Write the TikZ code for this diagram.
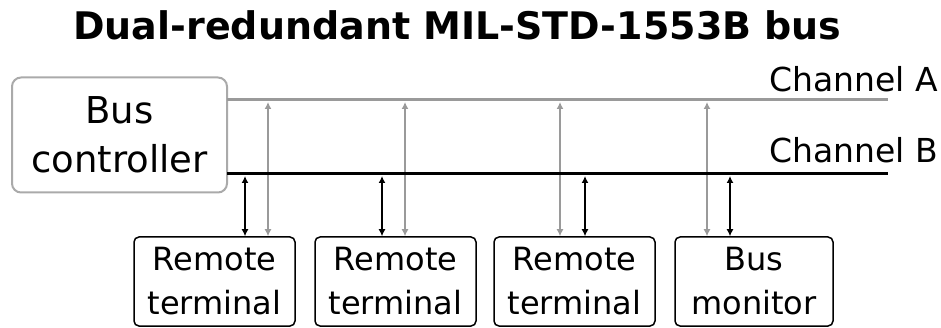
\documentclass[tikz,border=0pt]{standalone}
\usepackage{fontspec}
\setmainfont{DejaVu Sans}
\usetikzlibrary{arrows.meta}
\definecolor{busgray}{HTML}{9A9A9A}
\definecolor{boxgray}{HTML}{AAAAAA}
\begin{document}
\begin{tikzpicture}[x=1pt,y=-1pt,
  unitbox/.style={draw=black, line width=1.5pt, rounded corners=5pt,
    minimum width=161pt, minimum height=89pt, inner sep=0pt, align=center,
    font=\fontsize{32}{44}\selectfont},
  ctrlbox/.style={draw=boxgray, line width=2pt, rounded corners=9pt,
    minimum width=215pt, minimum height=115pt, inner sep=0pt, align=center,
    font=\fontsize{37}{49}\selectfont},
  chanA/.style={draw=busgray, line width=3pt},
  chanB/.style={draw=black, line width=3.5pt},
  linkA/.style={draw=busgray, line width=1.6pt, {Latex[length=7pt,width=7pt]}-{Latex[length=7pt,width=7pt]}},
  linkB/.style={draw=black, line width=1.6pt, {Latex[length=7pt,width=7pt]}-{Latex[length=7pt,width=7pt]}},
  chanlabel/.style={anchor=base east, inner sep=0pt, font=\fontsize{33}{40}\selectfont},
]
\useasboundingbox (0,0) rectangle (941,328);

% title
\node[anchor=base, inner sep=0pt, font=\fontsize{38}{46}\selectfont\bfseries]
  (title) at (457.5,40) {Dual-redundant MIL-STD-1553B bus};

% controller and attached units
\node[ctrlbox] (bc) at (119.5,135) {Bus\\controller};
\node[unitbox] (rt1) at (214.5,281.5) {Remote\\terminal};
\node[unitbox] (rt2) at (395.5,281.5) {Remote\\terminal};
\node[unitbox] (rt3) at (574.5,281.5) {Remote\\terminal};
\node[unitbox, minimum width=158pt] (bm) at (754,281.5) {Bus\\monitor};

% bus end points
\coordinate (A0) at (227,100);
\coordinate (A1) at (888,100);
\coordinate (B0) at (227,173.5);
\coordinate (B1) at (888,173.5);

% taps on channel A
\coordinate (a1) at (268,102);
\coordinate (a2) at (405,102);
\coordinate (a3) at (560,102);
\coordinate (a4) at (707,102);
% taps on channel B
\coordinate (b1) at (245,176);
\coordinate (b2) at (382,176);
\coordinate (b3) at (585,176);
\coordinate (b4) at (730,176);

% channel A links run beneath channel B
\draw[linkA] (a1) -- (a1 |- rt1.north);
\draw[linkA] (a2) -- (a2 |- rt2.north);
\draw[linkA] (a3) -- (a3 |- rt3.north);
\draw[linkA] (a4) -- (a4 |- bm.north);

% the two bus channels
\draw[chanA] (A0) -- (A1);
\draw[chanB] (B0) -- (B1);

% channel B links
\draw[linkB] (b1) -- (b1 |- rt1.north);
\draw[linkB] (b2) -- (b2 |- rt2.north);
\draw[linkB] (b3) -- (b3 |- rt3.north);
\draw[linkB] (b4) -- (b4 |- bm.north);

% channel names
\node[chanlabel] (labA) at (938,92) {Channel A};
\node[chanlabel] (labB) at (938,163) {Channel B};
\end{tikzpicture}
\end{document}
